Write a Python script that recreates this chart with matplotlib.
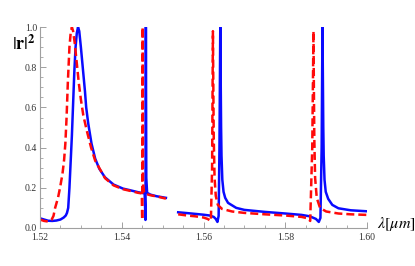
import numpy as np
import matplotlib
matplotlib.use("Agg")
import matplotlib.pyplot as plt

plt.rcParams['font.family'] = ['Liberation Serif', 'DejaVu Serif']
plt.rcParams['mathtext.fontset'] = 'stix'

# |r|^2, two pieces per curve (gap near 1.551-1.554)
blue_x1 = [1.5200, 1.5210, 1.5220, 1.5230, 1.5240, 1.5250, 1.5258, 1.5263, 1.5266, 1.5269,
           1.5272, 1.5275, 1.5278, 1.5281, 1.5284, 1.5287, 1.5290, 1.5293, 1.5296, 1.5300,
           1.5305, 1.5310, 1.5313, 1.5318, 1.5326, 1.5335, 1.5345, 1.5359, 1.5380, 1.5403,
           1.5420, 1.5440, 1.5456, 1.5458, 1.5459, 1.5460, 1.5462, 1.5470, 1.5485, 1.5508]
blue_y1 = [0.048, 0.042, 0.036, 0.035, 0.037, 0.042, 0.052, 0.062, 0.075, 0.100,
           0.200, 0.330, 0.460, 0.620, 0.780, 0.900, 0.970, 1.000, 0.980, 0.900,
           0.790, 0.680, 0.600, 0.520, 0.420, 0.345, 0.295, 0.252, 0.216, 0.196,
           0.188, 0.178, 0.172, 0.040, 1.000, 0.250, 0.175, 0.166, 0.158, 0.150]

red_x1 = [1.5200, 1.5210, 1.5220, 1.5228, 1.5233, 1.5237, 1.5244, 1.5249, 1.5255, 1.5259,
          1.5262, 1.5265, 1.5268, 1.5272, 1.5275, 1.5278, 1.5281, 1.5285, 1.5290, 1.5295,
          1.5300, 1.5306, 1.5315, 1.5325, 1.5335, 1.5359, 1.5380, 1.5403, 1.5420, 1.5440,
          1.5449, 1.5450, 1.5451, 1.5452, 1.5455, 1.5470, 1.5490, 1.5508]
red_y1 = [0.042, 0.035, 0.032, 0.040, 0.060, 0.100, 0.150, 0.200, 0.270, 0.340,
          0.420, 0.550, 0.720, 0.900, 0.970, 1.000, 0.980, 0.920, 0.820, 0.720,
          0.640, 0.560, 0.480, 0.400, 0.335, 0.248, 0.212, 0.193, 0.185, 0.175,
          0.172, 0.040, 1.000, 0.220, 0.172, 0.163, 0.155, 0.146]

blue_x2 = [1.5538, 1.5560, 1.5580, 1.5600, 1.5615, 1.5625, 1.5630, 1.5634, 1.5637, 1.5639,
           1.5641, 1.5642, 1.5643, 1.5644, 1.5646, 1.5649, 1.5653, 1.5660, 1.5680, 1.5700,
           1.5750, 1.5800, 1.5840, 1.5860, 1.5875, 1.5882, 1.5886, 1.5889, 1.5891, 1.5892,
           1.5893, 1.5894, 1.5896, 1.5899, 1.5905, 1.5915, 1.5930, 1.5960, 1.6000]
blue_y2 = [0.078, 0.074, 0.070, 0.066, 0.062, 0.055, 0.045, 0.030, 0.060, 0.400,
           1.000, 0.750, 0.500, 0.360, 0.240, 0.180, 0.150, 0.125, 0.100, 0.090,
           0.080, 0.072, 0.065, 0.058, 0.045, 0.030, 0.050, 0.400, 1.000, 0.750,
           0.500, 0.360, 0.240, 0.180, 0.145, 0.115, 0.098, 0.088, 0.083]

red_x2 = [1.5538, 1.5560, 1.5580, 1.5600, 1.5610, 1.5618, 1.5621, 1.5623, 1.5624, 1.5625,
          1.5627, 1.5630, 1.5635, 1.5645, 1.5670, 1.5700, 1.5750, 1.5800, 1.5840, 1.5855,
          1.5861, 1.5866, 1.5869, 1.5870, 1.5871, 1.5873, 1.5877, 1.5885, 1.5900, 1.5930,
          1.5960, 1.6000]
red_y2 = [0.068, 0.062, 0.058, 0.052, 0.045, 0.035, 0.300, 0.980, 0.700, 0.450,
          0.250, 0.160, 0.115, 0.095, 0.082, 0.075, 0.068, 0.062, 0.055, 0.048,
          0.035, 0.400, 0.980, 0.700, 0.450, 0.250, 0.150, 0.100, 0.082, 0.072,
          0.068, 0.065]

xticks = [1.52, 1.54, 1.56, 1.58, 1.60]
yticks = [0.0, 0.2, 0.4, 0.6, 0.8, 1.0]

fig = plt.figure(figsize=(4.15, 2.66), dpi=100)
ax = fig.add_axes([0.0964, 0.143, 0.788, 0.755])

for bx, by in [(blue_x1, blue_y1), (blue_x2, blue_y2)]:
    ax.plot(bx, by, color='#0a0aff', lw=1.8)
for rx, ry in [(red_x1, red_y1), (red_x2, red_y2)]:
    ax.plot(rx, ry, color='#ff0a0a', lw=1.8, ls=(0, (3.2, 1.6)))

ax.set_xlim(1.52, 1.60)
ax.set_ylim(0, 1.0)
ax.set_xticks(xticks)
ax.set_xticklabels(["%.2f" % t for t in xticks])
ax.set_yticks(yticks)
ax.set_yticklabels(["%.1f" % t for t in yticks])
ax.set_xticks(np.arange(1.52, 1.6001, 0.005), minor=True)
ax.set_yticks(np.arange(0, 1.0001, 0.05), minor=True)

for s in ['top', 'right']:
    ax.spines[s].set_visible(False)
for s in ['left', 'bottom']:
    ax.spines[s].set_color('#a0a0a0')
    ax.spines[s].set_linewidth(0.8)
ax.tick_params(which='both', direction='in', color='#a0a0a0', labelsize=7,
               labelcolor='#333333')
ax.tick_params(axis='x', pad=3.5)
ax.tick_params(axis='y', pad=2)
ax.tick_params(which='major', length=4, width=0.7)
ax.tick_params(which='minor', length=2.5, width=0.6)

fig.text(0.03, 0.835, r'$|\mathbf{r}|^{\mathbf{2}}$', fontsize=13, va='center')
fig.text(0.908, 0.124, r'$\lambda[\mu m]$', fontsize=11.5, va='bottom')

fig.savefig("out.png", dpi=100)
